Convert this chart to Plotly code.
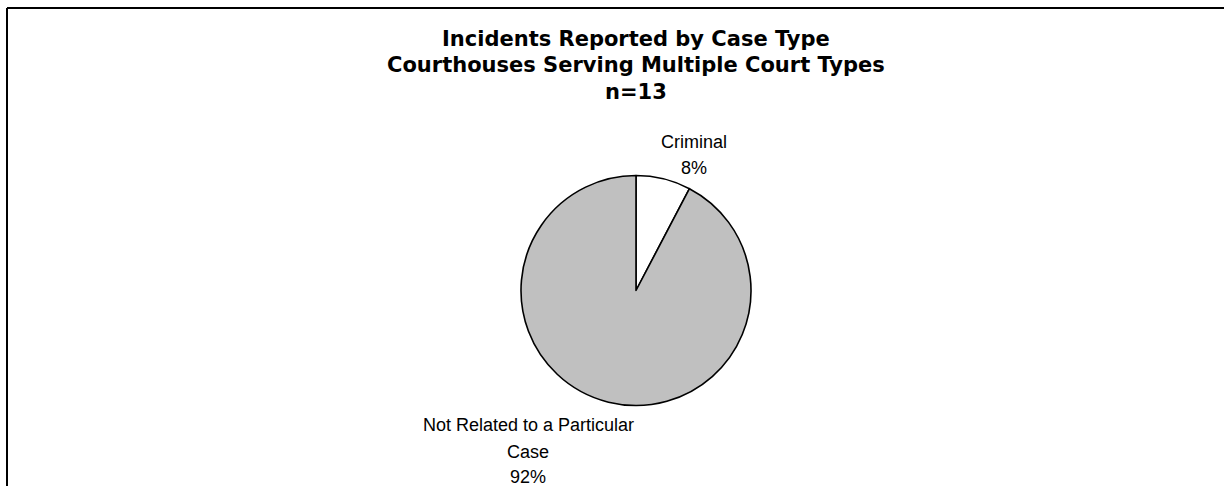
import plotly.graph_objects as go

W, H = 1224, 486

categories = ["Criminal", "Not Related to a Particular<br>Case"]
counts = [1, 12]
colors = ["#FFFFFF", "#C0C0C0"]
title_lines = ["Incidents Reported by Case Type",
               "Courthouses Serving Multiple Court Types",
               "n=13"]

total = sum(counts)
pcts = [round(100 * c / total) for c in counts]

def px_x(x):
    return x / W

def px_y(y):
    return 1 - y / H

cx, cy, r = 636, 290.5, 115

fig = go.Figure(go.Pie(
    labels=categories,
    values=counts,
    sort=False,
    direction="clockwise",
    rotation=0,
    marker=dict(colors=colors, line=dict(color="#000000", width=1.6)),
    textinfo="none",
    hoverinfo="label+percent",
    showlegend=False,
    domain=dict(x=[px_x(cx - r), px_x(cx + r)], y=[px_y(cy + r), px_y(cy - r)]),
))

font_lbl = dict(family="Liberation Sans, Arial, sans-serif", size=18, color="#000000")
font_title = dict(family="DejaVu Sans, sans-serif", size=21, color="#000000")
annotations = []
# title
for line, y in zip(title_lines, [39, 65, 92]):
    annotations.append(dict(text="<b>" + line + "</b>", x=px_x(636), y=px_y(y),
                            xref="paper", yref="paper", showarrow=False,
                            xanchor="center", yanchor="middle", font=font_title))
# slice labels
label_pos = [(694, [142, 168]), (528, [425, 452, 477])]
for cat, pct, (lx, ys) in zip(categories, pcts, label_pos):
    lines = cat.split("<br>") + [f"{pct}%"]
    for line, y in zip(lines, ys):
        annotations.append(dict(text=line, x=px_x(lx), y=px_y(y), xref="paper", yref="paper",
                                showarrow=False, xanchor="center", yanchor="middle", font=font_lbl))

shapes = [
    dict(type="line", xref="paper", yref="paper", x0=px_x(7), x1=1, y0=px_y(8), y1=px_y(8),
         line=dict(color="#000000", width=2)),
    dict(type="line", xref="paper", yref="paper", x0=px_x(7), x1=px_x(7), y0=0, y1=px_y(8),
         line=dict(color="#000000", width=2)),
]

fig.update_layout(
    width=W, height=H,
    margin=dict(l=0, r=0, t=0, b=0),
    paper_bgcolor="#FFFFFF", plot_bgcolor="#FFFFFF",
    annotations=annotations, shapes=shapes,
)

fig.write_html("out.html", config={"displayModeBar": False},
               post_script="document.body.style.margin='0';document.body.style.overflow='hidden';")
